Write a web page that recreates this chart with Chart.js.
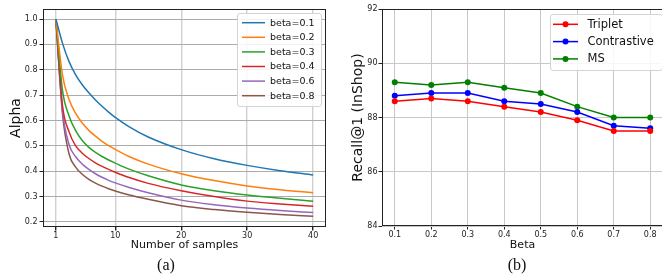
<!DOCTYPE html>
<html><head><meta charset="utf-8">
<script src="https://cdn.jsdelivr.net/npm/chart.js@4.4.0/dist/chart.umd.min.js"></script>
<style>
html,body{margin:0;padding:0;background:#fff;width:662px;height:274px;overflow:hidden;position:relative}
#wa{position:absolute;left:0;top:0;width:331px;height:274px}
#wb{position:absolute;left:331px;top:0;width:336px;height:274px}
.cap{position:absolute;font-family:"Liberation Serif","DejaVu Serif",serif;font-size:16px;color:#111;transform:translate(-50%,-50%);top:265px;line-height:1}
</style></head><body>
<div id="wa"><canvas id="ca" width="331" height="274"></canvas></div>
<div id="wb"><canvas id="cb" width="336" height="274"></canvas></div>
<div class="cap" style="left:166px">(a)</div>
<div class="cap" style="left:517px">(b)</div>
<script>
// ---- Panel (a) data ----
const samples = [1,2,3,4,5,6,7,8,9,10,12,15,20,25,30,35,40];
const alphaBeta01 = [1,0.905,0.832,0.780,0.741,0.709,0.681,0.656,0.633,0.612,0.577,0.535,0.485,0.449,0.423,0.402,0.385];
const alphaBeta02 = [1,0.780,0.683,0.628,0.590,0.561,0.538,0.518,0.501,0.486,0.459,0.428,0.390,0.363,0.342,0.327,0.315];
const alphaBeta03 = [1,0.720,0.618,0.560,0.521,0.494,0.474,0.458,0.444,0.432,0.409,0.382,0.346,0.323,0.306,0.293,0.282];
const alphaBeta04 = [1,0.660,0.555,0.500,0.471,0.450,0.433,0.419,0.407,0.396,0.376,0.352,0.323,0.300,0.282,0.271,0.262];
const alphaBeta06 = [1,0.640,0.505,0.457,0.428,0.407,0.390,0.376,0.364,0.354,0.337,0.315,0.286,0.268,0.255,0.245,0.237];
const alphaBeta08 = [1,0.627,0.468,0.416,0.388,0.368,0.353,0.341,0.331,0.322,0.307,0.289,0.264,0.249,0.238,0.229,0.222];
const seriesLabelsA = ['beta=0.1','beta=0.2','beta=0.3','beta=0.4','beta=0.6','beta=0.8'];
const xTicksA = [1,10,20,30,40];
const yTicksA = [0.2,0.3,0.4,0.5,0.6,0.7,0.8,0.9,1.0];

// ---- Panel (b) data ----
const betas = [0.1,0.2,0.3,0.4,0.5,0.6,0.7,0.8];
const recallTriplet = [88.6,88.7,88.6,88.4,88.2,87.9,87.5,87.5];
const recallContrastive = [88.8,88.9,88.9,88.6,88.5,88.2,87.7,87.6];
const recallMS = [89.3,89.2,89.3,89.1,88.9,88.4,88.0,88.0];
const seriesLabelsB = ['Triplet','Contrastive','MS'];
const yTicksB = [84,86,88,90,92];

const FONT = "'DejaVu Sans', 'Liberation Sans', sans-serif";
Chart.defaults.font.family = FONT;
Chart.defaults.color = '#222';

const framePlugin = {
  id: 'frame',
  afterDatasetsDraw(chart) {
    const a = chart.chartArea, ctx = chart.ctx;
    ctx.save();
    ctx.strokeStyle = '#222'; ctx.lineWidth = 1;
    ctx.strokeRect(Math.round(a.left)+0.5, Math.round(a.top)+0.5, Math.round(a.right-a.left)-1, Math.round(a.bottom-a.top)-1);
    ctx.restore();
  }
};

function rr(ctx, x, y, w, h, r) {
  ctx.beginPath();
  ctx.moveTo(x+r, y); ctx.lineTo(x+w-r, y); ctx.arcTo(x+w, y, x+w, y+r, r);
  ctx.lineTo(x+w, y+h-r); ctx.arcTo(x+w, y+h, x+w-r, y+h, r);
  ctx.lineTo(x+r, y+h); ctx.arcTo(x, y+h, x, y+h-r, r);
  ctx.lineTo(x, y+r); ctx.arcTo(x, y, x+r, y, r); ctx.closePath();
}

const boxLegend = {
  id: 'boxLegend',
  afterDraw(chart, args, o) {
    const ctx = chart.ctx;
    ctx.save();
    rr(ctx, o.x+0.5, o.y+0.5, o.w, o.h, 2.5);
    ctx.fillStyle = 'rgba(255,255,255,0.85)'; ctx.fill();
    ctx.strokeStyle = '#d4d4d4'; ctx.lineWidth = 1; ctx.stroke();
    chart.data.datasets.forEach((ds, i) => {
      const yy = o.firstY + i*o.rowH;
      ctx.strokeStyle = ds.borderColor; ctx.lineWidth = ds.borderWidth;
      ctx.beginPath(); ctx.moveTo(o.h0, yy); ctx.lineTo(o.h1, yy); ctx.stroke();
      if (o.marker) {
        ctx.fillStyle = ds.backgroundColor;
        ctx.beginPath(); ctx.arc((o.h0+o.h1)/2, yy, ds.pointRadius, 0, Math.PI*2); ctx.fill();
      }
      ctx.fillStyle = '#111'; ctx.font = o.font; ctx.textBaseline = 'middle'; ctx.textAlign = 'left';
      ctx.fillText(ds.label, o.textX, yy + 0.5);
    });
    ctx.restore();
  }
};

const coloursA = ['#1f77b4','#ff7f0e','#2ca02c','#d62728','#9467bd','#8c564b'];
const seriesA = [alphaBeta01, alphaBeta02, alphaBeta03, alphaBeta04, alphaBeta06, alphaBeta08];

new Chart(document.getElementById('ca'), {
  type: 'line',
  data: {
    datasets: seriesA.map((s, i) => ({
      label: seriesLabelsA[i],
      data: samples.map((n, k) => ({x: n, y: s[k]})),
      borderColor: coloursA[i], backgroundColor: coloursA[i],
      borderWidth: 1.5, pointRadius: 0, cubicInterpolationMode: 'monotone', fill: false
    }))
  },
  options: {
    responsive: false, animation: false, devicePixelRatio: 1,
    layout: {padding: {left: 0, right: 5, top: 9, bottom: 22}},
    plugins: {
      legend: {display: false}, tooltip: {enabled: false},
      boxLegend: {x: 237, y: 13, w: 84, h: 93, firstY: 22.7, rowH: 14.6, h0: 242, h1: 265, textX: 270, font: "9.5px " + FONT, marker: false}
    },
    scales: {
      x: {
        type: 'linear', min: -0.95, max: 41.95,
        afterBuildTicks: s => { s.ticks = xTicksA.map(v => ({value: v})); },
        afterFit: s => { s.height = 25; },
        ticks: {font: {size: 8}, padding: 1, maxRotation: 0, color: '#222', callback: v => String(v)},
        grid: {color: '#d0d0d0', lineWidth: 1.4, tickColor: '#222', tickLength: 3.5},
        border: {display: false},
        title: {display: true, text: 'Number of samples', font: {size: 11}, color: '#111', padding: {top: 0, bottom: 0}}
      },
      y: {
        type: 'linear', min: 0.18, max: 1.0395,
        afterBuildTicks: s => { s.ticks = yTicksA.map(v => ({value: v})); },
        afterFit: s => { s.width = 43; },
        ticks: {font: {size: 8}, padding: 2, color: '#222', callback: v => Number(v).toFixed(1)},
        grid: {color: '#ababab', lineWidth: 1, tickColor: '#222', tickLength: 3.5},
        border: {display: false},
        title: {display: true, text: 'Alpha', font: {size: 14}, color: '#111', padding: {top: 7.5, bottom: 0}}
      }
    }
  },
  plugins: [framePlugin, boxLegend]
});

const coloursB = ['#ff0000','#0000ff','#008000'];
const seriesB = [recallTriplet, recallContrastive, recallMS];

new Chart(document.getElementById('cb'), {
  type: 'line',
  data: {
    datasets: seriesB.map((s, i) => ({
      label: seriesLabelsB[i],
      data: betas.map((b, k) => ({x: b, y: s[k]})),
      borderColor: coloursB[i], backgroundColor: coloursB[i],
      borderWidth: 1.5, pointRadius: 3, pointBorderWidth: 0, tension: 0, fill: false
    }))
  },
  options: {
    responsive: false, animation: false, devicePixelRatio: 1,
    layout: {padding: {left: 0, right: 1.4, top: 9, bottom: 22}},
    plugins: {
      legend: {display: false}, tooltip: {enabled: false},
      boxLegend: {x: 219, y: 14, w: 112, h: 56, firstY: 24.3, rowH: 17.3, h0: 222, h1: 247, textX: 256.5, font: "11.5px " + FONT, marker: true}
    },
    scales: {
      x: {
        type: 'linear', min: 0.065, max: 0.835,
        afterBuildTicks: s => { s.ticks = betas.map(v => ({value: v})); },
        afterFit: s => { s.height = 26; },
        ticks: {font: {size: 8}, padding: 1, maxRotation: 0, color: '#222', callback: v => Number(v).toFixed(1)},
        grid: {color: '#c8c8c8', lineWidth: 1, tickColor: '#222', tickLength: 3.5},
        border: {display: false},
        title: {display: true, text: 'Beta', font: {size: 11}, color: '#111', padding: {top: 0, bottom: 0}}
      },
      y: {
        type: 'linear', min: 84, max: 92,
        afterBuildTicks: s => { s.ticks = yTicksB.map(v => ({value: v})); },
        afterFit: s => { s.width = 51; },
        ticks: {font: {size: 8}, padding: 1, color: '#222', callback: v => String(v)},
        grid: {color: '#c8c8c8', lineWidth: 1, tickColor: '#222', tickLength: 3.5},
        border: {display: false},
        title: {display: true, text: 'Recall@1 (InShop)', font: {size: 14}, color: '#111', padding: {top: 19, bottom: 0}}
      }
    }
  },
  plugins: [framePlugin, boxLegend]
});
</script>
</body></html>
